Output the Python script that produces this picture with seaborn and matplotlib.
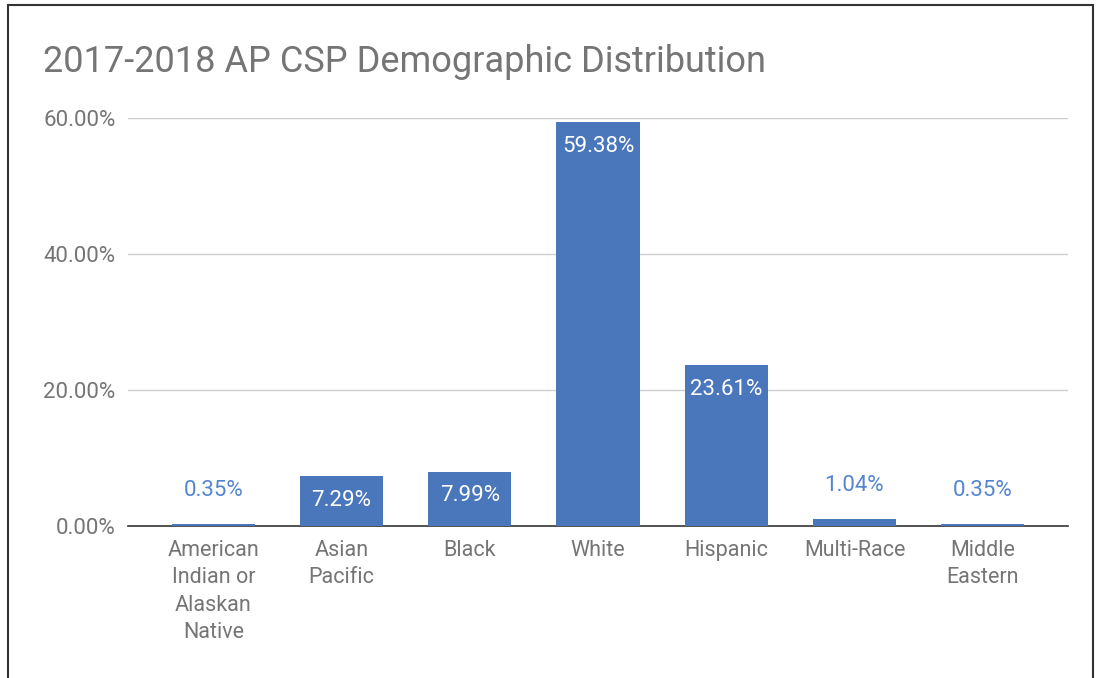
import matplotlib
matplotlib.use("Agg")
import matplotlib.pyplot as plt
import matplotlib.patches as mpatches
import seaborn as sns
import pandas as pd

categories = ["American\nIndian or\nAlaskan\nNative", "Asian\nPacific", "Black", "White",
              "Hispanic", "Multi-Race", "Middle\nEastern"]
values = [0.35, 7.29, 7.99, 59.38, 23.61, 1.04, 0.35]
value_labels = ["0.35%", "7.29%", "7.99%", "59.38%", "23.61%", "1.04%", "0.35%"]
y_ticks = [0, 20, 40, 60]
y_tick_labels = ["0.00%", "20.00%", "40.00%", "60.00%"]
title = "2017-2018 AP CSP Demographic Distribution"

sns.set_style("white")
plt.rcParams["font.family"] = ["Roboto", "DejaVu Sans"]

BAR = "#4a76bc"
GRAY = "#757575"

df = pd.DataFrame({"cat": categories, "val": values})

fig = plt.figure(figsize=(10.97, 6.78), dpi=100)
ax = fig.add_axes([128 / 1097, (678 - 526) / 678, (1068 - 128) / 1097, (526 - 118) / 678])

sns.barplot(data=df, x="cat", y="val", color=BAR, width=0.65, saturation=1, ax=ax,
            zorder=3, linewidth=0, edgecolor=BAR)

ax.set_xlim(-0.665, 6.665)
ax.set_ylim(0, 60)
ax.set_yticks(y_ticks)
ax.set_yticklabels(y_tick_labels, color=GRAY, fontsize=16)
ax.set_xlabel("")
ax.set_ylabel("")
ax.tick_params(axis="both", length=0)
ax.tick_params(axis="y", pad=9)
ax.tick_params(axis="x", pad=10)
for lbl in ax.get_xticklabels():
    lbl.set_color(GRAY)
    lbl.set_fontsize(15.5)
    lbl.set_linespacing(1.40)
    lbl.set_va("top")

for s in ["left", "right", "top"]:
    ax.spines[s].set_visible(False)
ax.spines["bottom"].set_color("#333333")
ax.spines["bottom"].set_linewidth(1.2)
ax.spines["bottom"].set_zorder(2)

for y in y_ticks[1:]:
    ax.axhline(y, color="#cccccc", lw=1, zorder=1)

for i, (v, t) in enumerate(zip(values, value_labels)):
    if v > 5:
        ax.annotate(t, xy=(i, v), xytext=(0, -17.5), textcoords="offset points",
                    ha="center", va="center", color="white", fontsize=16, zorder=5)
    else:
        ax.annotate(t, xy=(i, v), xytext=(0, 24), textcoords="offset points",
                    ha="center", va="center", color="#5585d0", fontsize=16, zorder=5)

fig.text(43 / 1097, 1 - 62 / 678, title, color=GRAY, fontsize=26, ha="left", va="center")

border = mpatches.Rectangle((8 / 1097, -0.05), (1093 - 8) / 1097, 1.05 - 5 / 678,
                            transform=fig.transFigure, fill=False, edgecolor="#333333",
                            linewidth=1.5, clip_on=False)
fig.patches.append(border)

fig.savefig("out.png", dpi=100, facecolor="white")
